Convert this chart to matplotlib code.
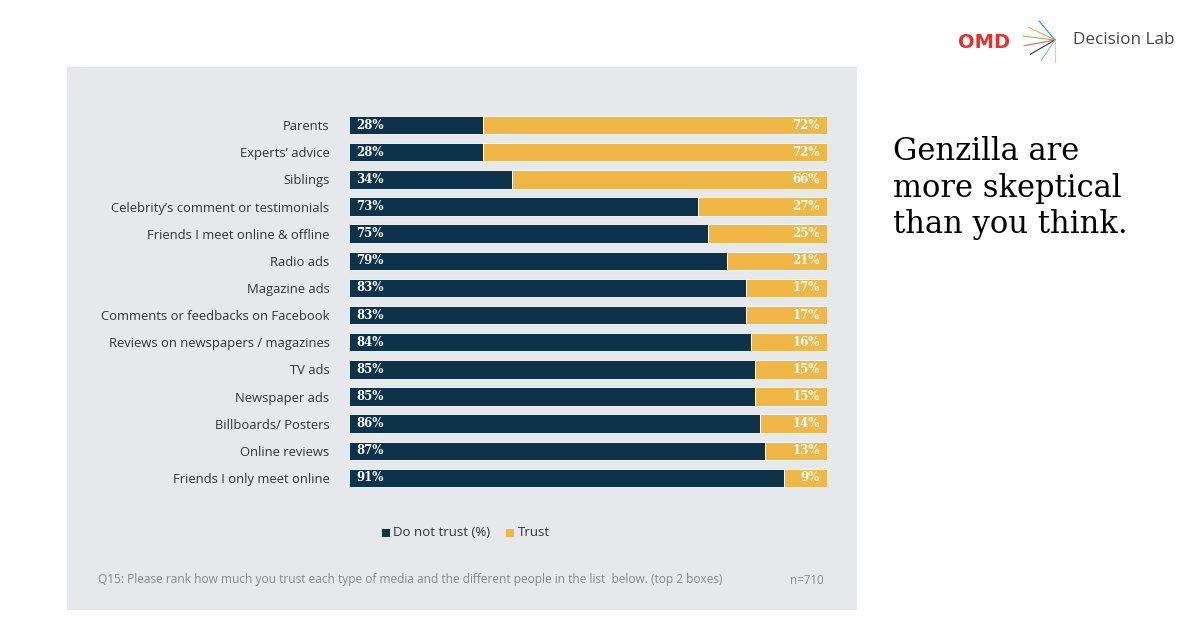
"""
Genzilla trust chart: stacked horizontal bars (do not trust vs trust).
"""

import math

import matplotlib.pyplot as plt
from matplotlib.patches import Rectangle

# Dados
categories = [
    "Parents",
    "Experts\u2019 advice",
    "Siblings",
    "Celebrity\u2019s comment or testimonials",
    "Friends I meet online & offline",
    "Radio ads",
    "Magazine ads",
    "Comments or feedbacks on Facebook",
    "Reviews on newspapers / magazines",
    "TV ads",
    "Newspaper ads",
    "Billboards/ Posters",
    "Online reviews",
    "Friends I only meet online",
]
do_not_trust = [28, 28, 34, 73, 75, 79, 83, 83, 84, 85, 85, 86, 87, 91]
trust = [72, 72, 66, 27, 25, 21, 17, 17, 16, 15, 15, 14, 13, 9]
series_labels = ["Do not trust (%)", "Trust"]

DARK = "#0c3349"
YELLOW = "#f1b746"
PANEL = "#e5e9ec"

fig = plt.figure(figsize=(12, 6.39), dpi=100)
fig.patch.set_facecolor("white")

# Painel cinza
fig.patches.append(
    Rectangle((67 / 1200, 1 - 610 / 639), 790 / 1200, 543 / 639,
              transform=fig.transFigure, facecolor=PANEL, edgecolor="none", zorder=-5)
)

ax = fig.add_axes([349 / 1200, 1 - 491.5 / 639, 478 / 1200, 380 / 639])
ax.set_zorder(2)
ax.set_facecolor("none")

ypos = list(range(len(categories)))
ax.barh(ypos, do_not_trust, height=0.68, color=DARK, edgecolor="white", linewidth=0.6)
ax.barh(ypos, trust, left=do_not_trust, height=0.68, color=YELLOW, edgecolor="white", linewidth=0.6)

for y, a, b in zip(ypos, do_not_trust, trust):
    ax.text(1.5, y, f"{a}%", color="white", fontsize=8.5, fontweight="bold",
            family="DejaVu Serif", va="center", ha="left")
    ax.text(a + b - 1.5, y, f"{b}%", color="white", fontsize=8.5, fontweight="bold",
            family="DejaVu Serif", va="center", ha="right")

ax.set_xlim(0, 100)
ax.set_ylim(len(categories) - 0.5, -0.5)
ax.set_yticks(ypos)
ax.set_yticklabels(categories, fontsize=9.4, color="#333333", family="Open Sans")
ax.tick_params(axis="y", length=0, pad=14)
ax.set_xticks([])
for s in ax.spines.values():
    s.set_visible(False)

# Legenda
fig.patches.append(Rectangle((382 / 1200, 1 - 537 / 639), 8 / 1200, 8 / 639,
                             transform=fig.transFigure, facecolor=DARK, edgecolor="none"))
fig.text(393 / 1200, 1 - 532 / 639, series_labels[0], fontsize=9.5, color="#333333",
         family="Open Sans", va="center", ha="left")
fig.patches.append(Rectangle((506 / 1200, 1 - 537 / 639), 8 / 1200, 8 / 639,
                             transform=fig.transFigure, facecolor=YELLOW, edgecolor="none"))
fig.text(518 / 1200, 1 - 532 / 639, series_labels[1], fontsize=9.5, color="#333333",
         family="Open Sans", va="center", ha="left")

# Nota de rodapé
fig.text(98 / 1200, 1 - 580 / 639,
         "Q15: Please rank how much you trust each type of media and the different people in the list  below. (top 2 boxes)",
         fontsize=8.6, color="#888888", family="Open Sans", va="center", ha="left")
fig.text(790 / 1200, 1 - 580 / 639, "n=710", fontsize=8.3, color="#888888",
         family="Open Sans", va="center", ha="left")

# Título
fig.text(893 / 1200, 1 - 188 / 639, "Genzilla are\nmore skeptical\nthan you think.",
         fontsize=22, color="black", family="DejaVu Serif", va="center", ha="left",
         linespacing=1.25)

# Logos (texto)
fig.text(958 / 1200, 1 - 42 / 639, "OMD", fontsize=14, fontweight="bold", color="#e8312f",
         family="DejaVu Sans", va="center", ha="left")
cols = ["#1a9fb5", "#f2a93b", "#8bc34a", "#e85d75", "#333333", "#6fc7d9", "#f7d358"]
x0, y0 = 1055 / 1200, 1 - 40 / 639
for i, c in enumerate(cols):
    ang = -60 + i * 25
    dx = math.cos(math.radians(180 + ang)) * 32 / 1200
    dy = math.sin(math.radians(180 + ang)) * 22 / 639
    fig.lines.append(plt.Line2D([x0, x0 + dx], [y0, y0 + dy], transform=fig.transFigure,
                                color=c, linewidth=0.8))
fig.text(1073 / 1200, 1 - 40 / 639, "Decision Lab", fontsize=12.3, color="#444444",
         family="Open Sans", va="center", ha="left")

plt.savefig("out.png", dpi=100)
